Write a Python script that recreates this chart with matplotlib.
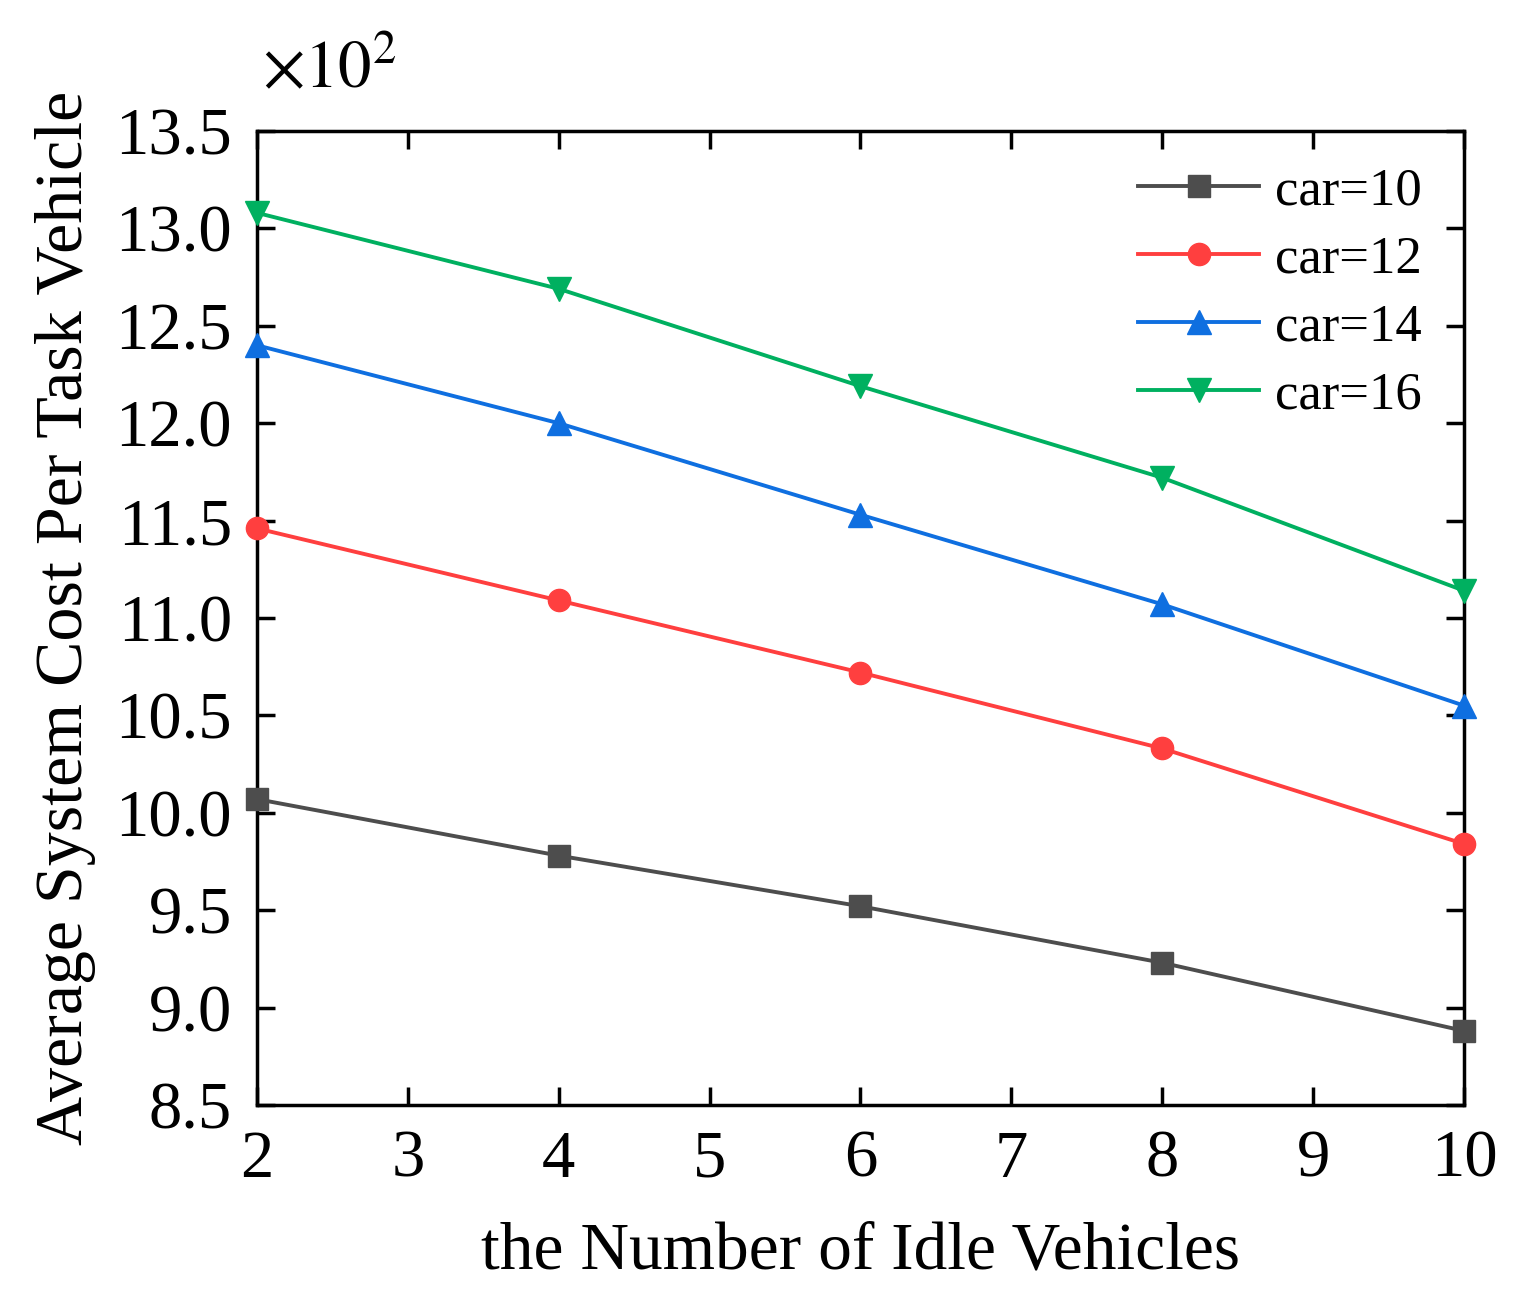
import matplotlib
matplotlib.use('Agg')
import matplotlib.pyplot as plt

# data (in units of 10^2)
idle = [2, 4, 6, 8, 10]
car10 = [10.07, 9.78, 9.52, 9.23, 8.88]
car12 = [11.46, 11.09, 10.72, 10.33, 9.84]
car14 = [12.40, 12.00, 11.53, 11.07, 10.55]
car16 = [13.08, 12.69, 12.19, 11.72, 11.14]
labels = ['car=10', 'car=12', 'car=14', 'car=16']

plt.rcParams['font.family'] = ['Liberation Serif', 'DejaVu Serif']
plt.rcParams['mathtext.fontset'] = 'stix'

fig = plt.figure(figsize=(15.23, 13.05), dpi=100)
ax = fig.add_axes([0.1687, 0.1533, 0.7926, 0.7463])

ax.plot(idle, car10, color='#4d4d4d', marker='s', markersize=16, lw=2.8, label=labels[0], clip_on=False, zorder=3)
ax.plot(idle, car12, color='#ff3f3f', marker='o', markersize=16, lw=2.8, label=labels[1], clip_on=False, zorder=3)
ax.plot(idle, car14, color='#0f6fe0', marker='^', markersize=17, lw=2.8, label=labels[2], clip_on=False, zorder=3)
ax.plot(idle, car16, color='#00b060', marker='v', markersize=17, lw=2.8, label=labels[3], clip_on=False, zorder=3)

ax.set_xlim(2, 10)
ax.set_ylim(8.5, 13.5)
ax.set_xticks(range(2, 11))
ax.set_yticks([8.5 + 0.5 * i for i in range(11)])
ax.set_yticklabels(['%.1f' % (8.5 + 0.5 * i) for i in range(11)])

for s in ax.spines.values():
    s.set_linewidth(2.5)
ax.tick_params(direction='in', length=13, width=2.5, labelsize=48, top=True, right=True)
ax.tick_params(axis='x', pad=18)
ax.tick_params(axis='y', pad=18)

ax.set_xlabel('the Number of Idle Vehicles', fontsize=48.5, labelpad=22)
ax.set_ylabel('Average System Cost Per Task Vehicle', fontsize=49, labelpad=14)

ax.text(0.004, 1.03, r'$\times10^{2}$', transform=ax.transAxes, fontsize=48, ha='left', va='bottom')

leg = ax.legend(loc='upper right', fontsize=38, frameon=False, handlelength=2.3,
                labelspacing=0.38, handletextpad=0.3, borderaxespad=0.0,
                bbox_to_anchor=(0.9826, 0.984))

fig.savefig('out.png', dpi=100)
